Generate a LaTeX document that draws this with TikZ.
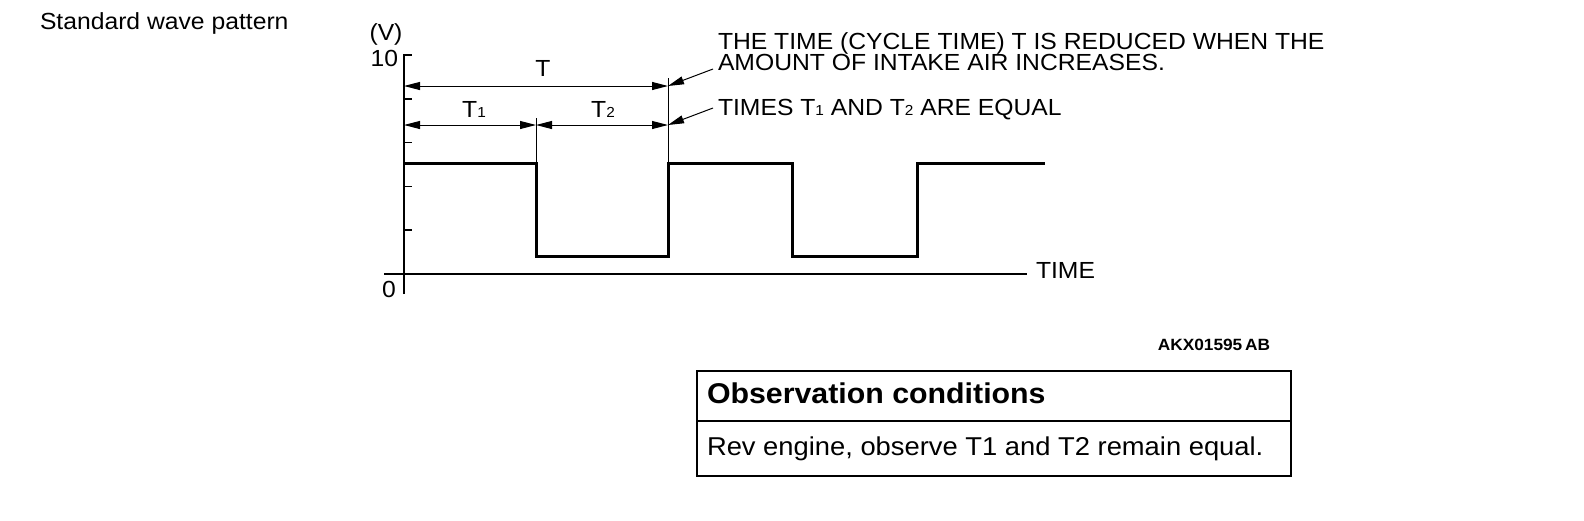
\documentclass[tikz,border=0pt]{standalone}
\usepackage{fontspec}
\setmainfont[FakeStretch=1.06]{Liberation Sans}
\usetikzlibrary{arrows.meta}
\newcommand\fsz[1]{\fontsize{#1}{#1}\selectfont}
\newcommand\sbs[1]{{\fsz{14.5}#1}}
\begin{document}
\begin{tikzpicture}[x=1pt,y=-1pt,
  lbl/.style={inner sep=0pt, outer sep=0pt, font=\fsz{23.3}},
  wave/.style={line width=3pt, line join=miter, line cap=rect},
  axisline/.style={line width=2pt},
  ticks/.style={line width=1.5pt},
  dimline/.style={line width=1pt, {Triangle[length=16pt,width=8pt]}-{Triangle[length=16pt,width=8pt]}},
  leader/.style={line width=1pt, -{Triangle[length=16pt,width=8pt]}},
  extline/.style={line width=1pt},
  tableline/.style={line width=2pt}]
\useasboundingbox (0,0) rectangle (1584,520);

% axes
\coordinate (ytop) at (404,55);
\coordinate (ytopr) at (412,55);
\coordinate (ybot) at (404,294);
\coordinate (xl) at (384,274);
\coordinate (xr) at (1027,274);
\draw[axisline] (ybot) -- (ytop) -- (ytopr);
\draw[axisline] (xl) -- (xr);
\foreach \yy in {98.8,142.6,186.4,230.2}
  \draw[ticks] (404,\yy) -- (412,\yy);

% wave
\coordinate (w0) at (404,163);
\coordinate (w1) at (536,163);
\coordinate (w2) at (536,256);
\coordinate (w3) at (668,256);
\coordinate (w4) at (668,163);
\coordinate (w5) at (792,163);
\coordinate (w6) at (792,256);
\coordinate (w7) at (917,256);
\coordinate (w8) at (917,163);
\coordinate (w9) at (1043,163);
\draw[wave] (w0) -- (w1) -- (w2) -- (w3) -- (w4) -- (w5) -- (w6) -- (w7) -- (w8) -- (w9);

% extension lines
\coordinate (e1t) at (668,78);
\coordinate (e2t) at (536,118);
\draw[extline] (e1t) -- (w4);
\draw[extline] (e2t) -- (w1);

% dimension lines
\coordinate (dTa) at (404,86);
\coordinate (dTb) at (668,86);
\coordinate (dT1a) at (404,125);
\coordinate (dT1b) at (536,125);
\coordinate (dT2b) at (668,125);
\draw[dimline] (dTa) -- (dTb);
\draw[dimline] (dT1a) -- (dT1b);
\draw[dimline] (dT1b) -- (dT2b);

% leaders
\coordinate (l1) at (713,69);
\coordinate (l2) at (713,108);
\draw[leader] (l1) -- (dTb);
\draw[leader] (l2) -- (dT2b);

% labels
\node[lbl, anchor=base west] (title) at (40,29) {Standard wave pattern};
\node[lbl, anchor=base] (unit) at (386,40) {(V)};
\node[lbl, anchor=base east] (ten) at (398,66) {10};
\node[lbl, anchor=base] (zero) at (389,297) {0};
\node[lbl, anchor=base] (Tlab) at (543,76) {T};
\node[lbl, anchor=base] (T1lab) at (474,117) {T\sbs{1}};
\node[lbl, anchor=base] (T2lab) at (603,117) {T\sbs{2}};
\node[lbl, anchor=base west] (timelab) at (1036,278) {TIME};
\node[lbl, anchor=base west] (note1) at (718,49.5) {THE TIME (CYCLE TIME) T IS REDUCED WHEN THE};
\node[lbl, anchor=base west] (note2) at (718,70) {AMOUNT OF INTAKE AIR INCREASES.};
\node[lbl, anchor=base west] (note3) at (718,115) {TIMES T\sbs{1} AND T\sbs{2} ARE EQUAL};
\node[lbl, anchor=base east, font=\fsz{16.3}\bfseries] (code) at (1270,350) {AKX01595\,AB};

% table
\coordinate (tbl) at (697,371);
\coordinate (tbr) at (1291,476);
\coordinate (tml) at (697,421);
\coordinate (tmr) at (1291,421);
\draw[tableline] (tbl) rectangle (tbr);
\draw[tableline] (tml) -- (tmr);
\node[lbl, anchor=base west, font=\fsz{28.6}\bfseries] (head) at (707,403) {Observation conditions};
\node[lbl, anchor=base west, font=\fsz{25.8}] (body) at (707,455) {Rev engine, observe T1 and T2 remain equal.};
\end{tikzpicture}
\end{document}
